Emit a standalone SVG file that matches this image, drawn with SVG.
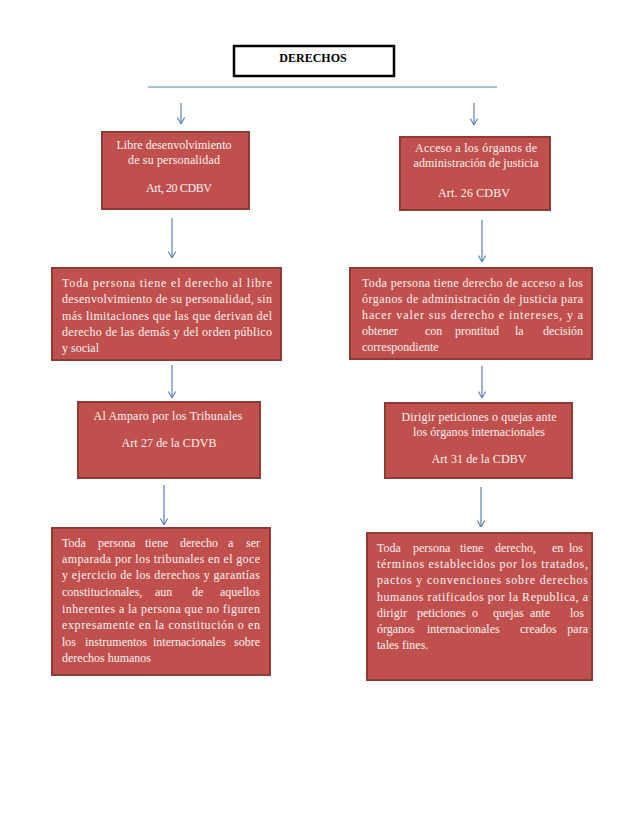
<svg xmlns="http://www.w3.org/2000/svg" width="638" height="826" viewBox="0 0 638 826">
<defs>
<style>
.box{fill:#C0504D;stroke:#8E3A37;stroke-width:2}
.t{font-family:"Liberation Serif","Times New Roman",serif;font-size:12px;fill:#FBF1F0}
.c{text-anchor:middle}
.e{text-anchor:end}
.ttl{font-family:"Liberation Serif","Times New Roman",serif;font-size:12px;font-weight:bold;fill:#000;text-anchor:middle}
.con{stroke:#5B82B5;stroke-width:1.2;fill:none}
</style>
<marker id="ah" viewBox="0 0 10 10" refX="10" refY="5" markerWidth="8" markerHeight="8" markerUnits="userSpaceOnUse" orient="auto">
<path d="M2,0.5 L10,5 L2,9.5" fill="none" stroke="#5B82B5" stroke-width="1.4"/>
</marker>
</defs>
<rect width="638" height="826" fill="#fff"/>

<g id="connectors">
<line class="con" x1="148" y1="87" x2="497" y2="87"/>
<line class="con" x1="181" y1="103" x2="181" y2="124" marker-end="url(#ah)"/>
<line class="con" x1="474" y1="103" x2="474" y2="125" marker-end="url(#ah)"/>
<line class="con" x1="172" y1="218" x2="172" y2="258" marker-end="url(#ah)"/>
<line class="con" x1="482" y1="220" x2="482" y2="262" marker-end="url(#ah)"/>
<line class="con" x1="172" y1="365" x2="172" y2="398" marker-end="url(#ah)"/>
<line class="con" x1="482" y1="366" x2="482" y2="398" marker-end="url(#ah)"/>
<line class="con" x1="164" y1="485" x2="164" y2="525" marker-end="url(#ah)"/>
<line class="con" x1="481" y1="487" x2="481" y2="527" marker-end="url(#ah)"/>
</g>

<g id="title">
<rect x="234" y="46" width="160" height="30" fill="#fff" stroke="#000" stroke-width="2.5"/>
<text class="ttl" x="313" y="62">DERECHOS</text>
</g>

<g id="n1">
<rect class="box" x="102" y="132" width="147" height="77"/>
<text class="t c" x="174" y="149" textLength="115">Libre desenvolvimiento</text>
<text class="t c" x="174" y="164" textLength="92">de su personalidad</text>
<text class="t c" x="179" y="192" textLength="66">Art, 20 CDBV</text>
</g>

<g id="n2">
<rect class="box" x="400" y="137" width="150" height="73"/>
<text class="t c" x="476" y="152" textLength="122">Acceso a los órganos de</text>
<text class="t c" x="476" y="167" textLength="125">administración de justicia</text>
<text class="t c" x="474" y="197" textLength="72">Art. 26 CDBV</text>
</g>

<g id="n3">
<rect class="box" x="52" y="268" width="229" height="92"/>
<text class="t" x="62" y="287" textLength="210">Toda persona tiene el derecho al libre</text>
<text class="t" x="62" y="303" textLength="210">desenvolvimiento de su personalidad, sin</text>
<text class="t" x="62" y="320" textLength="210">más limitaciones que las que derivan del</text>
<text class="t" x="62" y="336" textLength="210">derecho de las demás y del orden público</text>
<text class="t" x="62" y="352">y social</text>
</g>

<g id="n4">
<rect class="box" x="350" y="268" width="242" height="91"/>
<text class="t" x="362" y="287" textLength="221">Toda persona tiene derecho de acceso a los</text>
<text class="t" x="362" y="303" textLength="221">órganos de administración de justicia para</text>
<text class="t" x="362" y="319" textLength="221">hacer valer sus derecho e intereses, y a</text>
<text class="t" y="335"><tspan x="362">obtener</tspan><tspan x="425">con</tspan><tspan x="455">prontitud</tspan><tspan x="515">la</tspan></text>
<text class="t e" x="583" y="335">decisión</text>
<text class="t" x="362" y="351">correspondiente</text>
</g>

<g id="n5">
<rect class="box" x="78" y="402" width="182" height="76"/>
<text class="t c" x="168" y="420" textLength="149">Al  Amparo por los Tribunales</text>
<text class="t c" x="169" y="447" textLength="95">Art 27 de la CDVB</text>
</g>

<g id="n6">
<rect class="box" x="385" y="403" width="187" height="75"/>
<text class="t c" x="479" y="421" textLength="155">Dirigir peticiones o quejas ante</text>
<text class="t c" x="479" y="436" textLength="132">los órganos internacionales</text>
<text class="t c" x="479" y="463" textLength="95">Art 31 de la CDBV</text>
</g>

<g id="n7">
<rect class="box" x="52" y="528" width="218" height="147"/>
<text class="t" y="547"><tspan x="62">Toda</tspan><tspan x="98">persona</tspan><tspan x="145">tiene</tspan><tspan x="180">derecho</tspan><tspan x="228">a</tspan></text>
<text class="t e" x="260" y="547">ser</text>
<text class="t" x="62" y="563" textLength="198">amparada por los tribunales en el goce</text>
<text class="t" x="62" y="579" textLength="198">y ejercicio de los derechos y garantías</text>
<text class="t" y="596"><tspan x="62">constitucionales,</tspan><tspan x="155">aun</tspan><tspan x="192">de</tspan></text>
<text class="t e" x="260" y="596">aquellos</text>
<text class="t" x="62" y="613" textLength="198">inherentes a la persona que no figuren</text>
<text class="t" x="62" y="629" textLength="198">expresamente en la constitución o en</text>
<text class="t" y="646"><tspan x="62">los</tspan><tspan x="85">instrumentos</tspan><tspan x="153">internacionales</tspan></text>
<text class="t e" x="260" y="646">sobre</text>
<text class="t" x="62" y="662">derechos humanos</text>
</g>

<g id="n8">
<rect class="box" x="367" y="533" width="225" height="147"/>
<text class="t" y="552"><tspan x="377">Toda</tspan><tspan x="413">persona</tspan><tspan x="460">tiene</tspan><tspan x="495">derecho,</tspan><tspan x="552">en</tspan></text>
<text class="t e" x="583" y="552">los</text>
<text class="t" x="377" y="568" textLength="211">términos establecidos por los tratados,</text>
<text class="t" x="377" y="584" textLength="211">pactos y convenciones sobre derechos</text>
<text class="t" x="377" y="601" textLength="211">humanos ratificados por la Republica, a</text>
<text class="t" y="617"><tspan x="377">dirigir</tspan><tspan x="417">peticiones</tspan><tspan x="472">o</tspan><tspan x="493">quejas</tspan><tspan x="530">ante</tspan></text>
<text class="t e" x="584" y="617">los</text>
<text class="t" y="633"><tspan x="377">órganos</tspan><tspan x="427">internacionales</tspan><tspan x="520">creados</tspan></text>
<text class="t e" x="588" y="633">para</text>
<text class="t" x="377" y="649">tales fines.</text>
</g>
</svg>
